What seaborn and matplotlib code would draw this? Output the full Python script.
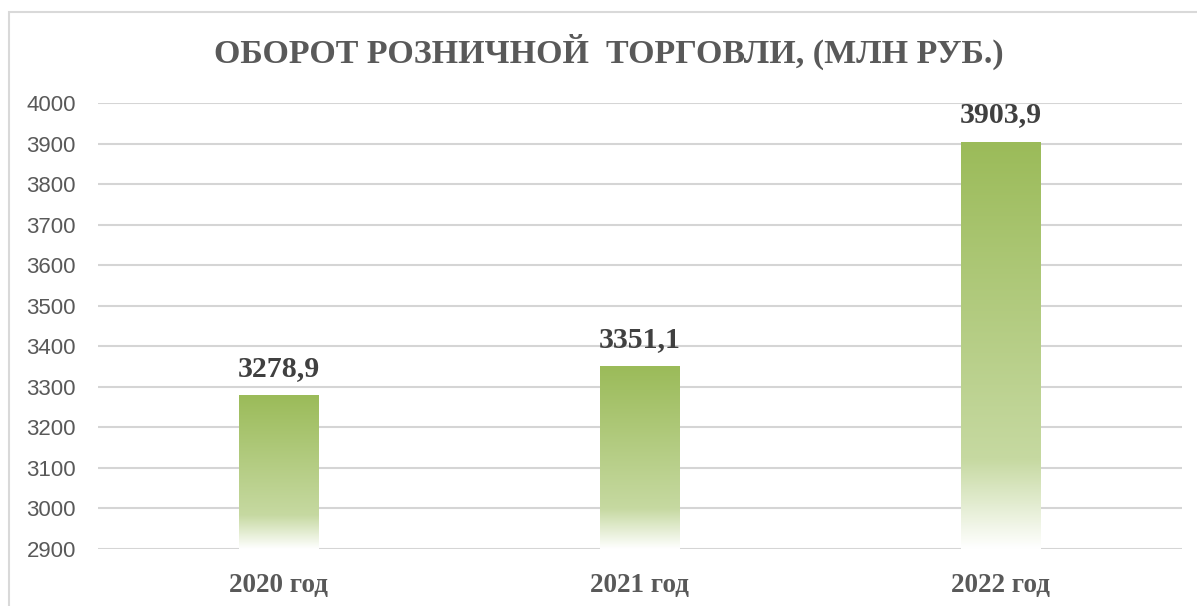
import numpy as np
import matplotlib
matplotlib.use("Agg")
import matplotlib.pyplot as plt
import seaborn as sns
import pandas as pd
from matplotlib.colors import LinearSegmentedColormap
from matplotlib.patches import Rectangle

categories = ["2020 год", "2021 год", "2022 год"]
values = [3278.9, 3351.1, 3903.9]
value_labels = ["3278,9", "3351,1", "3903,9"]
yticks = list(range(2900, 4001, 100))
title = "ОБОРОТ РОЗНИЧНОЙ  ТОРГОВЛИ, (МЛН РУБ.)"

sns.set_theme(style="white")
plt.rcParams['font.family'] = ['Liberation Sans', 'DejaVu Sans']

W, H = 1197, 606
fig = plt.figure(figsize=(W / 100, H / 100), dpi=100)
ax = fig.add_axes([98 / W, 57 / H, (1181.5 - 98) / W, (549 - 103) / H])

df = pd.DataFrame({"cat": categories, "val": values})
sns.barplot(data=df, x="cat", y="val", ax=ax, width=0.22, color="#9BBB59",
            saturation=1, errorbar=None)

ax.set_ylim(yticks[0], yticks[-1])
ax.set_xlim(-0.5, len(categories) - 0.5)
ax.set_yticks(yticks)
ax.set_yticklabels([str(t) for t in yticks])

cmap = LinearSegmentedColormap.from_list(
    "g", [(0.0, "#FFFFFF"), (0.22, "#C6D9A1"), (1.0, "#9BBB59")])
grad = np.linspace(0, 1, 256).reshape(-1, 1)
ylo = ax.get_ylim()[0]
for p in ax.patches:
    x0 = p.get_x()
    x1 = x0 + p.get_width()
    top = p.get_y() + p.get_height()
    im = ax.imshow(grad, extent=[x0, x1, ylo, top], origin="lower",
                   cmap=cmap, aspect="auto", zorder=2, interpolation="bicubic")
    im.set_clip_path(p)
    p.set_facecolor("none")
    p.set_edgecolor("none")

ax.set_xlim(-0.5, len(categories) - 0.5)
ax.set_ylim(yticks[0], yticks[-1])

for i, (v, lab) in enumerate(zip(values, value_labels)):
    ax.annotate(lab, xy=(i, v), xytext=(0, 14), textcoords="offset points",
                ha="center", va="baseline", fontsize=21.5, fontweight="bold",
                color="#404040", family=["Liberation Serif", "DejaVu Serif"],
                zorder=5)

ax.set_axisbelow(True)
ax.yaxis.grid(True, color="#D5D5D5", linewidth=1.5)
ax.xaxis.grid(False)
sns.despine(ax=ax, left=True, bottom=True)
ax.tick_params(axis="both", length=0)
ax.tick_params(axis="y", pad=16, labelsize=16, labelcolor="#595959")
ax.tick_params(axis="x", pad=17)
for t in ax.get_xticklabels():
    t.set_fontfamily(["Liberation Serif", "DejaVu Serif"])
    t.set_fontweight("bold")
    t.set_fontsize(19.5)
    t.set_color("#595959")
ax.set_xlabel("")
ax.set_ylabel("")

fig.text(609 / W, 1 - 52 / H, title, ha="center", va="center",
         fontsize=24.5, fontweight="bold", color="#595959",
         family=["Liberation Serif", "DejaVu Serif"])

fig.patches.append(Rectangle((8.5 / W, -0.1), 1.2, 1 - 12.5 / H + 0.1,
                             transform=fig.transFigure, fill=False,
                             edgecolor="#D9D9D9", linewidth=1.5))

fig.savefig("out.png", dpi=100)
